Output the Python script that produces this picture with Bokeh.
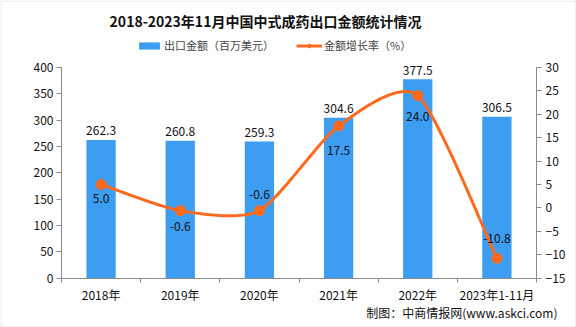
from bokeh.plotting import figure
from bokeh.models import (Range1d, LinearAxis, FixedTicker, ColumnDataSource, Label,
                          Legend, LegendItem, BoxAnnotation)
from bokeh.embed import file_html
from bokeh.resources import INLINE
from bokeh.core.properties import value

# ---- data ----
categories = ["2018年", "2019年", "2020年", "2021年", "2022年", "2023年1-11月"]
export_value = [262.3, 260.8, 259.3, 304.6, 377.5, 306.5]      # 百万美元
growth_rate = [5.0, -0.6, -0.6, 17.5, 24.0, -10.8]             # %
left_ticks = [0, 50, 100, 150, 200, 250, 300, 350, 400]
right_ticks = [-15, -10, -5, 0, 5, 10, 15, 20, 25, 30]

# ---- styles / layout (pixels) ----
growth_label_dy = [14, 16, -16, 25, 21, -20]
BAR_COLOR = "#3d9df0"
LINE_COLOR = "#fd6a1e"
AXIS_COLOR = "#8a8a8a"
FONT = "Noto Sans CJK SC"
W, H = 576, 327
PX_L, PX_R, PX_T, PX_B = 61, 536, 67, 277.5   # plot area in canvas pixels
SMOOTH = 0.7

n = len(categories)
xc = [i + 0.5 for i in range(n)]

# data ranges chosen so the whole canvas is the frame and the plot area sits at PX_*
ux = (PX_R - PX_L) / n
x0 = -PX_L / ux
x1 = n + (W - PX_R) / ux
lo, hi = left_ticks[0], left_ticks[-1]
uy = (PX_B - PX_T) / (hi - lo)
y0 = lo - (H - PX_B) / uy
y1 = hi + PX_T / uy
rlo, rhi = right_ticks[0], right_ticks[-1]
ury = (PX_B - PX_T) / (rhi - rlo)
ry0 = rlo - (H - PX_B) / ury
ry1 = rhi + PX_T / ury

def cx_(px):
    return x0 + px / ux

def cy_(py):
    return y0 + (H - py) / uy

p = figure(width=W, height=H, output_backend="svg", toolbar_location=None,
           x_range=Range1d(x0, x1), y_range=Range1d(y0, y1),
           min_border=0, x_axis_type=None, y_axis_type=None)
p.extra_y_ranges = {"r": Range1d(ry0, ry1)}
p.grid.visible = False
p.outline_line_color = None
p.background_fill_color = "white"
p.border_fill_color = "white"

def style_axis(ax):
    ax.axis_line_color = AXIS_COLOR
    ax.major_tick_line_color = AXIS_COLOR
    ax.minor_tick_line_color = None
    ax.major_tick_in = 0
    ax.major_tick_out = 5
    ax.major_label_text_font = FONT
    ax.major_label_text_font_size = "12px"
    ax.major_label_text_color = "#111111"

yl = LinearAxis(ticker=FixedTicker(ticks=left_ticks), fixed_location=0, bounds=(lo, hi))
style_axis(yl)
yl.major_label_standoff = 3
p.add_layout(yl, "left")

yr = LinearAxis(y_range_name="r", ticker=FixedTicker(ticks=right_ticks),
                fixed_location=n, bounds=(rlo, rhi))
style_axis(yr)
yr.major_label_standoff = 4
p.add_layout(yr, "right")

xa = LinearAxis(ticker=FixedTicker(ticks=xc, minor_ticks=list(range(n + 1))),
                fixed_location=0, bounds=(0, n))
style_axis(xa)
xa.major_tick_line_color = None
xa.minor_tick_line_color = AXIS_COLOR
xa.minor_tick_in = 0
xa.minor_tick_out = 4
xa.major_label_standoff = 3
xa.major_label_overrides = {x: c for x, c in zip(xc, categories)}
p.add_layout(xa, "below")

src = ColumnDataSource(dict(x=xc, v=export_value, g=growth_rate,
                            vl=[f"{v:.1f}" for v in export_value],
                            gl=[f"{g:.1f}" for g in growth_rate],
                            gdy=growth_label_dy))

bars = p.vbar(x="x", top="v", width=0.37, bottom=0, source=src,
              fill_color=BAR_COLOR, line_color=None)
p.text(x="x", y="v", text="vl", source=src, y_offset=-9, text_align="center",
       text_baseline="middle", text_font=value(FONT), text_font_size="12px", text_color="#111111")

# smoothed curve (cardinal spline) through the growth points, for drawing only
def cardinal(xs, ys, k, steps=30):
    px, py = [], []
    m = len(xs)
    for i in range(m - 1):
        xa0, ya0 = (xs[i - 1], ys[i - 1]) if i > 0 else (xs[i], ys[i])
        xa1, ya1 = xs[i], ys[i]
        xa2, ya2 = xs[i + 1], ys[i + 1]
        xa3, ya3 = (xs[i + 2], ys[i + 2]) if i + 2 < m else (xs[i + 1], ys[i + 1])
        mx1, my1 = k * (xa2 - xa0) / 2, k * (ya2 - ya0) / 2
        mx2, my2 = k * (xa3 - xa1) / 2, k * (ya3 - ya1) / 2
        for j in range(steps + (1 if i == m - 2 else 0)):
            t = j / steps
            h00 = 2 * t**3 - 3 * t**2 + 1
            h10 = t**3 - 2 * t**2 + t
            h01 = -2 * t**3 + 3 * t**2
            h11 = t**3 - t**2
            px.append(h00 * xa1 + h10 * mx1 + h01 * xa2 + h11 * mx2)
            py.append(h00 * ya1 + h10 * my1 + h01 * ya2 + h11 * my2)
    return px, py

sx, sy = cardinal(xc, growth_rate, SMOOTH)
line = p.line(sx, sy, y_range_name="r", line_color=LINE_COLOR, line_width=3)
dots = p.scatter(x="x", y="g", source=src, y_range_name="r", size=10,
                 fill_color=LINE_COLOR, line_color=LINE_COLOR)
p.text(x="x", y="g", text="gl", source=src, y_range_name="r", y_offset="gdy",
       text_align="center", text_baseline="middle", text_font=value(FONT),
       text_font_size="12px", text_color="#111111")

legend = Legend(items=[LegendItem(label="出口金额（百万美元）", renderers=[bars]),
                       LegendItem(label="金额增长率（%）", renderers=[line, dots])],
                orientation="horizontal", location=(136, H - 53), padding=0, margin=0,
                spacing=22, glyph_width=26, glyph_height=9, label_standoff=2,
                label_text_font=FONT, label_text_font_size="11px",
                border_line_color=None, background_fill_alpha=0)
p.add_layout(legend)

p.add_layout(Label(x=cx_(265), y=cy_(20),
                   text="2018-2023年11月中国中式成药出口金额统计情况",
                   text_align="center", text_baseline="middle", text_font=FONT,
                   text_font_size="14px", text_font_style="bold", text_color="#111111"))
p.add_layout(Label(x=cx_(557), y=cy_(312),
                   text="制图：中商情报网(www.askci.com)",
                   text_align="right", text_baseline="middle", text_font=FONT,
                   text_font_size="12px", text_color="#111111"))
p.add_layout(BoxAnnotation(left=cx_(0.5), right=cx_(W - 0.5), top=cy_(0.5), bottom=cy_(H - 0.5),
                           fill_alpha=0, line_color="#a0a0a0", line_width=1))

open("out.html", "w").write(file_html(p, INLINE))
